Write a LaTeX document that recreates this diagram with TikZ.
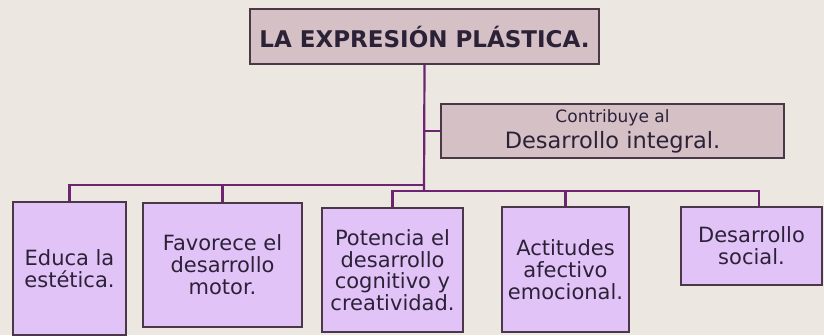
\documentclass[tikz,border=0pt]{standalone}
\usepackage{fontspec}
\setmainfont{DejaVu Sans}
\usepackage{xcolor}
\usetikzlibrary{positioning}
\definecolor{PaperBg}{HTML}{ECE8E1}
\definecolor{RoseFill}{HTML}{D5C0C5}
\definecolor{LilacFill}{HTML}{E2C3F7}
\definecolor{EdgeDark}{HTML}{4A3848}
\definecolor{LinkPurple}{HTML}{6E2470}
\definecolor{TextDark}{HTML}{2C2238}

\begin{document}
\begin{tikzpicture}[x=1pt, y=-1pt,
      every node/.style={font=\fontsize{21}{22}\selectfont, text=TextDark},
      TOPBOX/.style={draw=EdgeDark, fill=RoseFill, line width=1.8pt,
          inner sep=0pt, align=center},
      SUB/.style={draw=EdgeDark, fill=LilacFill, line width=1.8pt,
          inner sep=0pt, align=center},
      ln/.style={draw=LinkPurple, line width=2.2pt},
    ]
    \fill[PaperBg] (0,0) rectangle (824,335);
    \useasboundingbox (0,0) rectangle (824,335);

    % TOP
    \node[TOPBOX, minimum width=349pt, minimum height=55pt,
      font=\fontsize{23}{26}\selectfont\bfseries] (top) at (424.5,36.5)
      {LA EXPRESIÓN PLÁSTICA.};
    \node[TOPBOX, minimum width=343pt, minimum height=54pt] (con) at (612.5,131)
      {{\fontsize{17}{18}\selectfont Contribuye al}\\[4pt]
       {\fontsize{22.5}{24}\selectfont Desarrollo integral.}};

    % CHILDREN
    \node[SUB, minimum width=113pt, minimum height=133pt] (e1) at (69.5,268.5)
      {Educa la\\estética.};
    \node[SUB, minimum width=159pt, minimum height=124pt] (e2) at (222.5,265)
      {Favorece el\\desarrollo\\motor.};
    \node[SUB, minimum width=141pt, minimum height=124pt,
      font=\fontsize{21}{21.5}\selectfont] (e3) at (392.5,270)
      {Potencia el\\desarrollo\\cognitivo y\\creatividad.};
    \node[SUB, minimum width=127pt, minimum height=125pt] (e4) at (565.5,269.5)
      {Actitudes\\afectivo\\emocional.};
    \node[SUB, minimum width=141pt, minimum height=78pt] (e5) at (751.5,246)
      {Desarrollo\\social.};

    % Links
    \coordinate (hubL) at (424,185);
    \coordinate (hubR) at (424,191);
    \draw[ln] (top.south) -- (hubR);
    \draw[ln] (top.south |- con.west) -- (con.west);
    \foreach \b in {e1,e2}
    \draw[ln] (hubL) -| (\b.north);
    \foreach \b in {e3,e4}
    \draw[ln] (hubR) -| (\b.north);
    \draw[ln] (hubR) -| ([xshift=7.5pt]e5.north);
  \end{tikzpicture}
\end{document}
